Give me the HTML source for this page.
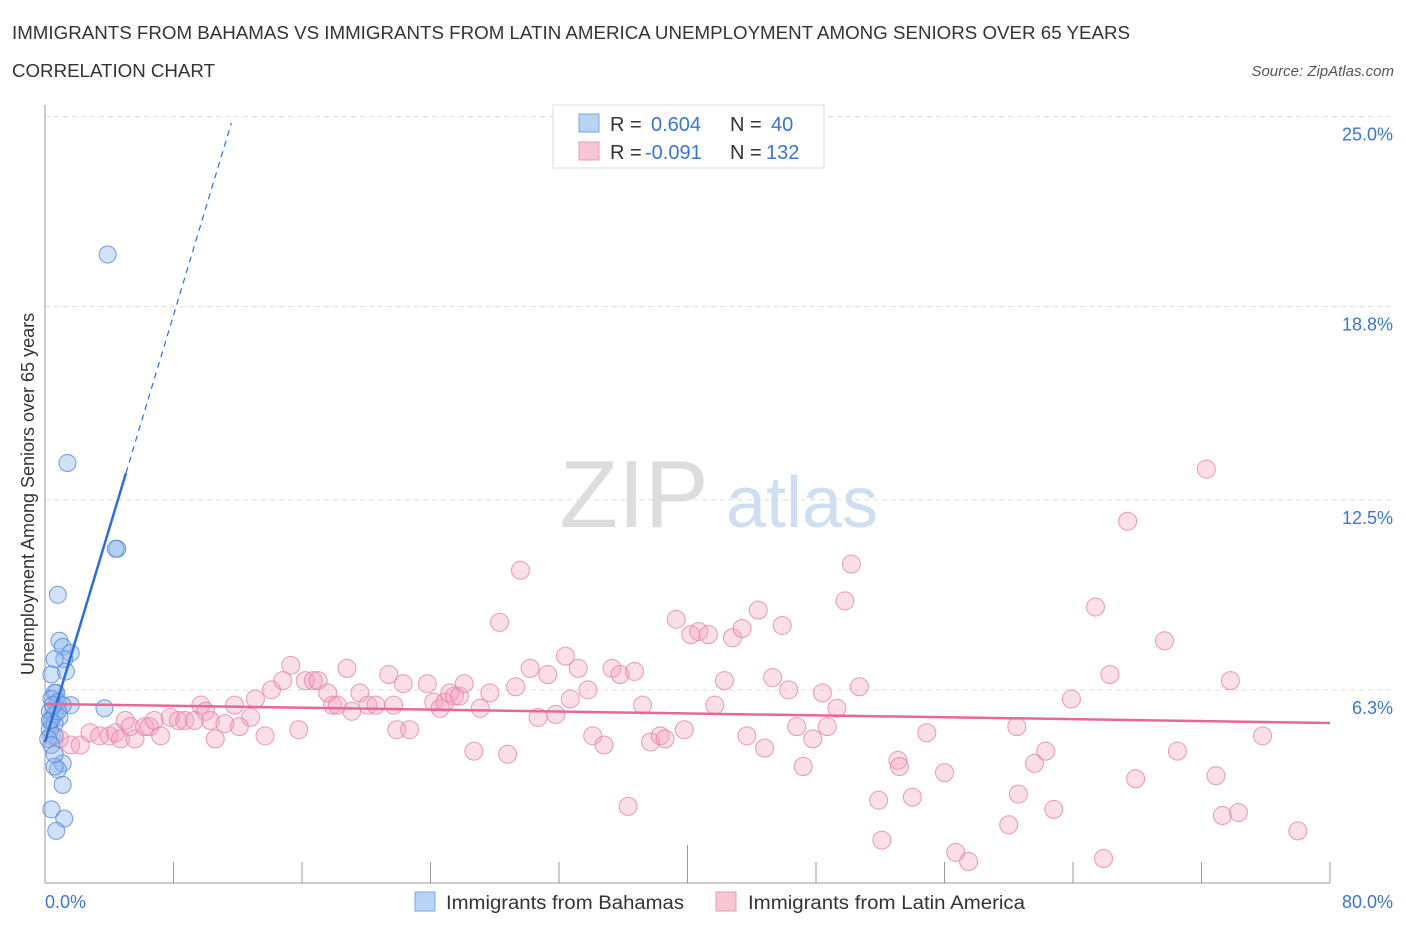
<!DOCTYPE html>
<html><head><meta charset="utf-8"><style>
body{margin:0;background:#fff;font-family:"Liberation Sans",sans-serif;}
svg text{font-family:"Liberation Sans",sans-serif;}
</style></head><body>
<svg id="chart" width="1406" height="930">
<text x="12" y="39" font-size="18" fill="#333" textLength="1118" lengthAdjust="spacingAndGlyphs">IMMIGRANTS FROM BAHAMAS VS IMMIGRANTS FROM LATIN AMERICA UNEMPLOYMENT AMONG SENIORS OVER 65 YEARS</text>
<text x="12" y="77" font-size="18" fill="#333" textLength="203" lengthAdjust="spacingAndGlyphs">CORRELATION CHART</text>
<text x="1394" y="76" font-size="15" fill="#555" font-style="italic" text-anchor="end">Source: ZipAtlas.com</text>
<text x="634" y="527" font-size="96" fill="#ddd" text-anchor="middle" font-family="Liberation Serif">ZIP</text>
<text x="802" y="527" font-size="72" fill="#cfdff2" text-anchor="middle">atlas</text>
<text transform="translate(34,494) rotate(-90)" font-size="18" fill="#333" text-anchor="middle">Unemployment Among Seniors over 65 years</text>
<g id="grid"></g><g id="pts"></g><g id="lines"></g>
<g>
<rect x="553" y="105" width="271" height="63" fill="#fff" stroke="#ddd"/>
<rect x="579" y="114" width="20" height="18" fill="#b8d3f5" stroke="#7aa6e0"/>
<rect x="579" y="142" width="20" height="18" fill="#f9c6d6" stroke="#eb98b4"/>
<text x="610" y="131" font-size="20" fill="#333">R =</text>
<text x="651" y="131" font-size="20" fill="#3a76d0">0.604</text>
<text x="730" y="131" font-size="20" fill="#333">N =</text>
<text x="771" y="131" font-size="20" fill="#3a76d0">40</text>
<text x="610" y="159" font-size="20" fill="#333">R =</text>
<text x="645" y="159" font-size="20" fill="#3a76d0">-0.091</text>
<text x="730" y="159" font-size="20" fill="#333">N =</text>
<text x="766" y="159" font-size="20" fill="#3a76d0">132</text>
</g>
<g>
<rect x="415" y="892" width="20" height="19" fill="#b8d3f5" stroke="#7aa6e0"/>
<text x="446" y="909" font-size="19" fill="#333" textLength="238" lengthAdjust="spacingAndGlyphs">Immigrants from Bahamas</text>
<rect x="716" y="892" width="20" height="19" fill="#f9c6d6" stroke="#eb98b4"/>
<text x="748" y="909" font-size="19" fill="#333" textLength="277" lengthAdjust="spacingAndGlyphs">Immigrants from Latin America</text>
</g>
</svg>
<script>
const yTicks=[25.0,18.8,12.5,6.3];
const yTickLabels=["25.0%","18.8%","12.5%","6.3%"];
const xTicks=[0,8,16,24,32,40,48,56,64,72,80];
const xTickLabels=["0.0%","80.0%"];
const pinkX=[0.4,0.9,1.6,2.2,2.8,3.4,4.0,4.4,4.7,5.0,5.3,5.6,6.2,6.5,6.8,7.2,7.8,8.3,8.7,9.3,9.7,10.0,10.3,10.6,11.2,11.8,12.1,12.8,13.1,13.7,14.1,14.8,15.3,15.8,16.2,16.7,17.0,17.6,17.9,18.2,18.8,19.1,19.6,20.1,20.6,21.4,21.7,21.9,22.3,22.7,23.8,24.2,24.6,24.9,25.2,25.5,25.8,26.1,26.7,27.1,27.7,28.3,28.8,29.3,29.6,30.2,30.7,31.3,31.8,32.4,32.7,33.2,33.8,34.1,34.8,35.3,35.8,36.3,36.7,37.2,37.7,38.3,38.6,39.3,39.8,40.2,40.7,41.3,41.7,42.3,42.8,43.4,43.7,44.4,44.8,45.3,45.9,46.3,46.8,47.2,47.8,48.4,48.7,49.3,49.8,50.2,50.7,51.9,52.1,53.1,53.2,54.0,54.9,56.0,56.7,57.5,60.0,60.5,60.6,61.6,62.3,62.8,63.9,65.4,65.9,66.3,67.4,67.9,69.7,70.5,72.3,72.9,73.3,73.8,74.3,75.8,78.0];
const pinkY=[4.8,4.7,4.5,4.5,4.9,4.8,4.8,4.9,4.7,5.3,5.1,4.7,5.1,5.1,5.3,4.8,5.4,5.3,5.3,5.3,5.8,5.6,5.3,4.7,5.2,5.8,5.1,5.4,6.0,4.8,6.3,6.6,7.1,5.0,6.6,6.6,6.6,6.2,5.8,5.8,7.0,5.6,6.2,5.8,5.8,6.8,5.8,5.0,6.5,5.0,6.5,5.9,5.7,5.9,6.2,6.1,6.1,6.5,4.3,5.7,6.2,8.5,4.2,6.4,10.2,7.0,5.4,6.8,5.5,7.4,6.0,7.0,6.3,4.8,4.5,7.0,6.8,2.5,6.9,5.8,4.6,4.8,4.7,8.6,5.0,8.1,8.2,8.1,5.8,6.6,8.0,8.3,4.8,8.9,4.4,6.7,8.4,6.3,5.1,3.8,4.7,6.2,5.1,5.7,9.2,10.4,6.4,2.7,1.4,4.0,3.8,2.8,4.9,3.6,1.0,0.7,1.9,5.1,2.9,3.9,4.3,2.4,6.0,9.0,0.8,6.8,11.8,3.4,7.9,4.3,13.5,3.5,2.2,6.6,2.3,4.8,1.7];
const blueX=[3.9,1.4,4.5,4.4,0.8,0.9,1.1,1.6,1.2,0.6,1.3,0.4,0.7,0.6,0.4,0.8,1.6,3.7,1.1,0.3,0.6,0.4,0.9,0.6,0.3,0.6,0.2,0.4,1.1,0.8,0.6,1.1,0.4,1.2,0.7,0.6,0.3,0.8,0.5];
const blueY=[20.5,13.7,10.9,10.9,9.4,7.9,7.7,7.5,7.3,7.3,6.9,6.8,6.2,6.2,6.0,5.9,5.8,5.7,5.8,5.6,5.5,5.3,5.4,5.2,5.0,4.8,4.7,4.5,3.9,3.7,3.8,3.2,2.4,2.1,1.7,4.2,5.3,5.6,5.8];
const blueLine=[4.6,1.74];
const pinkLine=[5.84,-0.00775];
const X0=45,X1=1330,Y0=883,YP=30.66;
const sx=v=>X0+(X1-X0)*v/80, sy=v=>Y0-v*YP;
const NS="http://www.w3.org/2000/svg";
function mk(p,t,a){const e=document.createElementNS(NS,t);for(const k in a)e.setAttribute(k,a[k]);p.appendChild(e);return e;}
const g=document.getElementById('grid');
yTicks.forEach((v,i)=>{
 const l=mk(g,'line',{x1:X0,x2:1394,y1:sy(v),y2:sy(v),stroke:'#ddd','stroke-dasharray':'5,4'});
 
 
 const t=mk(g,'text',{x:1393,y:sy(v)+24,'font-size':18,fill:'#3a76d0','text-anchor':'end'});t.textContent=yTickLabels[i];
 
 
});
const ax=mk(g,'line',{x1:X0,x2:X0,y1:105,y2:Y0,stroke:'#999'});


const bx=mk(g,'line',{x1:X0,x2:X1,y1:Y0,y2:Y0,stroke:'#999'});


xTicks.forEach((v,i)=>{
 const l=mk(g,'line',{x1:sx(v),x2:sx(v),y1:i==5?845:862,y2:Y0,stroke:'#999'});
 
 
});
[[0,'start',X0],[1,'end',1393]].forEach(([i,a,x])=>{
 const t=mk(g,'text',{x:x,y:908,'font-size':18,fill:'#3a76d0','text-anchor':a});t.textContent=xTickLabels[i];
 
 
});
const P=document.getElementById('pts');
pinkX.forEach((x,i)=>{
 const c=mk(P,'circle',{cx:sx(x),cy:sy(pinkY[i]),r:9,fill:'rgba(242,160,190,0.35)',stroke:'rgba(230,130,165,0.8)','stroke-width':1});
 
 
});
blueX.forEach((x,i)=>{
 const c=mk(P,'circle',{cx:sx(x),cy:sy(blueY[i]),r:8.5,fill:'rgba(140,180,235,0.4)',stroke:'rgba(80,135,215,0.8)','stroke-width':1});
 
 
});
const L=document.getElementById('lines');
const bf=v=>blueLine[0]+blueLine[1]*v, pf=v=>pinkLine[0]+pinkLine[1]*v;
const b1=mk(L,'line',{x1:sx(0),y1:sy(bf(0)),x2:sx(5.04),y2:sy(bf(5.04)),stroke:'#2b6fd6','stroke-width':2.5});


const b2=mk(L,'line',{x1:sx(5.04),y1:sy(bf(5.04)),x2:sx(11.6),y2:sy(bf(11.6)),stroke:'#2b6fd6','stroke-width':1.2,'stroke-dasharray':'6,5'});


const p1=mk(L,'line',{x1:sx(0),y1:sy(pf(0)),x2:sx(80),y2:sy(pf(80)),stroke:'#e8679a','stroke-width':2.5});


</script>
</body></html>
